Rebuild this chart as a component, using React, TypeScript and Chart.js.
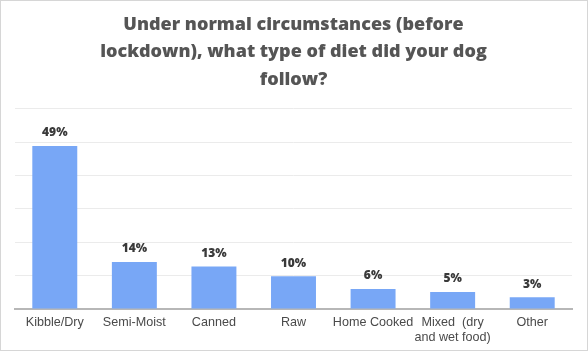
import React, { useEffect, useRef } from "react";
import { Chart, registerables } from "chart.js";

Chart.register(...registerables);

const categories: (string | string[])[] = [
  "Kibble/Dry",
  "Semi-Moist",
  "Canned",
  "Raw",
  "Home Cooked",
  ["Mixed  (dry", "and wet food)"],
  "Other",
];
const shares = [48.8, 14.1, 12.7, 9.8, 6.0, 5.1, 3.5];
const shareLabels = ["49%", "14%", "13%", "10%", "6%", "5%", "3%"];
const titleLines = [
  "Under normal circumstances (before",
  "lockdown), what type of diet did your dog",
  "follow?",
];

const valueLabelPlugin = {
  id: "valueLabels",
  afterDatasetsDraw(chart: any) {
    const ctx = chart.ctx;
    const meta = chart.getDatasetMeta(0);
    ctx.save();
    ctx.font = "800 12px 'Open Sans', sans-serif";
    ctx.fillStyle = "#3a3a3a";
    ctx.textAlign = "center";
    ctx.textBaseline = "middle";
    meta.data.forEach((bar: any, i: number) => {
      ctx.fillText(shareLabels[i], bar.x, bar.y - 13);
    });
    ctx.restore();
  },
};

export default function App() {
  const ref = useRef<HTMLCanvasElement | null>(null);
  useEffect(() => {
    document.body.style.margin = "0";
    if (!ref.current) return;
    const chart = new Chart(ref.current, {
      type: "bar",
      data: {
        labels: categories,
        datasets: [
          {
            data: shares,
            backgroundColor: "#78a7f6",
            categoryPercentage: 0.565,
            barPercentage: 1,
          },
        ],
      },
      options: {
        animation: false,
        responsive: false,
        maintainAspectRatio: false,
        layout: { padding: { left: 14, right: 15, top: 0, bottom: 0 } },
        plugins: {
          legend: { display: false },
          tooltip: { enabled: false },
          title: {
            display: true,
            text: titleLines,
            color: "#555555",
            font: { family: "'Open Sans', sans-serif", size: 18, weight: "800", lineHeight: 1.53 },
            padding: { top: 10, bottom: 15 },
          },
        },
        scales: {
          x: {
            grid: { display: false, drawTicks: false, tickLength: 0 },
            border: { display: true, color: "#b7b7b7", width: 2 },
            ticks: {
              color: "#4a4a4a",
              font: { family: "'Liberation Sans', Arial, sans-serif", size: 12.6, lineHeight: 1.17 },
              padding: 6,
              maxRotation: 0,
              autoSkip: false,
            },
            afterFit: (s: any) => {
              s.height = 41;
            },
          },
          y: {
            min: 0,
            max: 60,
            ticks: { display: false, stepSize: 10 },
            grid: { color: "#ebebeb", drawTicks: false },
            border: { display: false },
            afterFit: (s: any) => {
              s.width = 0;
            },
          },
        },
      },
      plugins: [valueLabelPlugin],
    });
    return () => chart.destroy();
  }, []);
  return (
    <div
      style={{
        width: 588,
        height: 351,
        boxSizing: "border-box",
        border: "1px solid #d6d6d6",
        background: "#fff",
      }}
    >
      <canvas ref={ref} width={586} height={349} style={{ display: "block" }} />
    </div>
  );
}
